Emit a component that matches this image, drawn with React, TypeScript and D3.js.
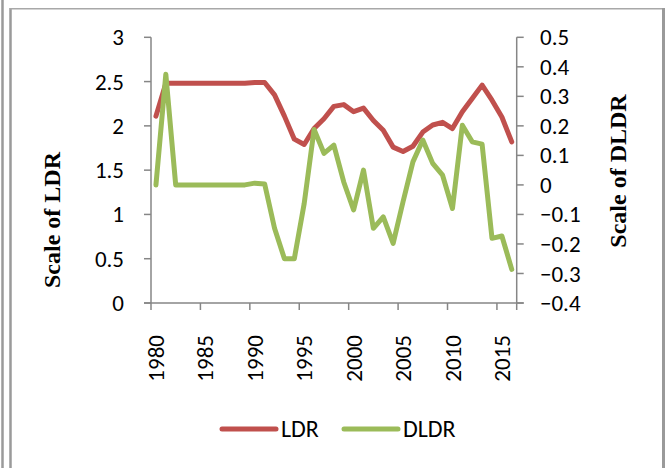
import React from "react";
import * as d3 from "d3";

const years: number[] = [
  1980, 1981, 1982, 1983, 1984, 1985, 1986, 1987, 1988, 1989,
  1990, 1991, 1992, 1993, 1994, 1995, 1996, 1997, 1998, 1999,
  2000, 2001, 2002, 2003, 2004, 2005, 2006, 2007, 2008, 2009,
  2010, 2011, 2012, 2013, 2014, 2015, 2016,
];

const ldr: number[] = [
  2.11, 2.48, 2.48, 2.48, 2.48, 2.48, 2.48, 2.48, 2.48, 2.48,
  2.49, 2.49, 2.35, 2.11, 1.85, 1.79, 1.97, 2.08, 2.22, 2.24,
  2.16, 2.2, 2.06, 1.95, 1.76, 1.71, 1.77, 1.93, 2.01, 2.04,
  1.97, 2.16, 2.31, 2.46, 2.29, 2.1, 1.82,
];

const dldr: number[] = [
  0.0, 0.375, 0.0, 0.0, 0.0, 0.0, 0.0, 0.0, 0.0, 0.0,
  0.006, 0.003, -0.147, -0.25, -0.25, -0.063, 0.188, 0.107, 0.135, 0.01,
  -0.085, 0.05, -0.147, -0.108, -0.198, -0.057, 0.078, 0.152, 0.073, 0.033,
  -0.08, 0.202, 0.146, 0.138, -0.181, -0.173, -0.286,
];

const leftTicks: number[] = [0, 0.5, 1, 1.5, 2, 2.5, 3];
const rightTicks: number[] = [-0.4, -0.3, -0.2, -0.1, 0, 0.1, 0.2, 0.3, 0.4, 0.5];
const labelYears: number[] = [1980, 1985, 1990, 1995, 2000, 2005, 2010, 2015];

const seriesNames = ["LDR", "DLDR"];
const seriesColors = ["#C0504D", "#9BBB59"];

const W = 666;
const H = 468;
const plot = { left: 151, right: 516.7, top: 37.3, bottom: 303 };
const FONT = "Carlito, Calibri, Lato, sans-serif";
const FS = 23;
const AXIS = "#868686";

export default function App() {
  const x = d3
    .scaleBand<number>()
    .domain(years)
    .range([plot.left, plot.right])
    .paddingInner(0)
    .paddingOuter(0);
  const cx = (yr: number) => (x(yr) as number) + x.bandwidth() / 2;
  const yL = d3.scaleLinear().domain([0, 3]).range([plot.bottom, plot.top]);
  const yR = d3.scaleLinear().domain([-0.4, 0.5]).range([plot.bottom, plot.top]);

  const lineL = d3
    .line<number>()
    .x((_, i) => cx(years[i]))
    .y((d) => yL(d));
  const lineR = d3
    .line<number>()
    .x((_, i) => cx(years[i]))
    .y((d) => yR(d));

  const xTickPos: number[] = [];
  for (let i = 0; i <= years.length; i += 5) xTickPos.push(plot.left + i * x.step());
  xTickPos.push(plot.right);

  const fmtR = (v: number) => (Math.abs(v) < 1e-9 ? "0" : d3.format(".1f")(v));

  return (
    <svg
      width={W}
      height={H}
      style={{ position: "absolute", left: 0, top: 0, background: "#fff" }}
    >
      {/* page borders */}
      <line x1={2.5} y1={0} x2={2.5} y2={H} stroke="#9a9a9a" strokeWidth={2.5} />
      <line x1={10.5} y1={8} x2={10.5} y2={H} stroke="#9a9a9a" strokeWidth={2.5} />
      <line x1={10} y1={8.8} x2={664} y2={8.8} stroke="#a8a8a8" strokeWidth={1.6} />
      <line x1={663.5} y1={8} x2={663.5} y2={H} stroke="#9a9a9a" strokeWidth={3} />

      {/* left axis */}
      <line x1={plot.left} y1={plot.top} x2={plot.left} y2={plot.bottom} stroke={AXIS} strokeWidth={1.5} />
      {leftTicks.map((t) => (
        <g key={"l" + t}>
          <line x1={plot.left - 7} x2={plot.left} y1={yL(t)} y2={yL(t)} stroke={AXIS} strokeWidth={1.5} />
          <text x={124} y={yL(t)} dy="0.35em" textAnchor="end" fontFamily={FONT} fontSize={FS} fill="#000">
            {String(t)}
          </text>
        </g>
      ))}

      {/* right axis */}
      <line x1={plot.right} y1={plot.top} x2={plot.right} y2={plot.bottom} stroke={AXIS} strokeWidth={1.5} />
      {rightTicks.map((t) => (
        <g key={"r" + t}>
          <line x1={plot.right} x2={plot.right + 7} y1={yR(t)} y2={yR(t)} stroke={AXIS} strokeWidth={1.5} />
          <text x={540} y={yR(t)} dy="0.35em" textAnchor="start" fontFamily={FONT} fontSize={FS} fill="#000">
            {fmtR(t)}
          </text>
        </g>
      ))}

      {/* x axis */}
      <line x1={plot.left - 7} x2={plot.right + 7} y1={plot.bottom} y2={plot.bottom} stroke={AXIS} strokeWidth={1.5} />
      {xTickPos.map((p, i) => (
        <line key={"xt" + i} x1={p} x2={p} y1={plot.bottom} y2={plot.bottom + 7} stroke={AXIS} strokeWidth={1.5} />
      ))}
      {labelYears.map((yr) => (
        <text
          key={"xl" + yr}
          transform={`translate(${cx(yr)},${plot.bottom + 32}) rotate(-90)`}
          dy="0.35em"
          textAnchor="end"
          fontFamily={FONT}
          fontSize={FS}
          fill="#000"
        >
          {String(yr)}
        </text>
      ))}

      {/* axis titles */}
      <text
        transform={`translate(52,220) rotate(-90)`}
        dy="0.35em"
        textAnchor="middle"
        fontFamily="Liberation Serif, Times New Roman, serif"
        fontWeight="bold"
        fontSize={24}
        fill="#000"
      >
        Scale of LDR
      </text>
      <text
        transform={`translate(618,171) rotate(-90)`}
        dy="0.35em"
        textAnchor="middle"
        fontFamily="Liberation Serif, Times New Roman, serif"
        fontWeight="bold"
        fontSize={24}
        fill="#000"
      >
        Scale of DLDR
      </text>

      {/* series */}
      <path d={lineL(ldr) || ""} fill="none" stroke={seriesColors[0]} strokeWidth={5} strokeLinejoin="round" strokeLinecap="round" />
      <path d={lineR(dldr) || ""} fill="none" stroke={seriesColors[1]} strokeWidth={5} strokeLinejoin="round" strokeLinecap="round" />

      {/* legend */}
      {seriesNames.map((name, i) => {
        const x0 = i === 0 ? 222 : 344;
        return (
          <g key={name}>
            <line x1={x0} x2={x0 + 54} y1={429} y2={429} stroke={seriesColors[i]} strokeWidth={5} strokeLinecap="round" />
            <text x={x0 + 59} y={429} dy="0.35em" fontFamily={FONT} fontSize={FS + 1} fill="#000">
              {name}
            </text>
          </g>
        );
      })}
    </svg>
  );
}
